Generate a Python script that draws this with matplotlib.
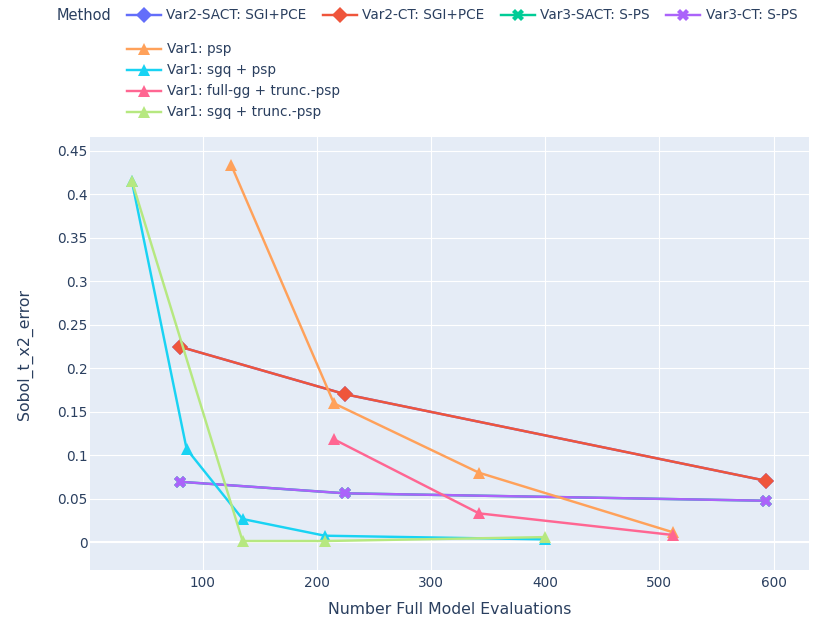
import numpy as np
import matplotlib.pyplot as plt
from matplotlib.lines import Line2D

# ---------------------------------------------- data
methods = ['Var2-SACT: SGI+PCE', 'Var2-CT: SGI+PCE', 'Var3-SACT: S-PS', 'Var3-CT: S-PS',
           'Var1: psp', 'Var1: sgq + psp', 'Var1: full-gg + trunc.-psp', 'Var1: sgq + trunc.-psp']

var2_evals = [80, 225, 593]
var2_err = [0.2248, 0.1701, 0.0708]
var3_evals = [80, 225, 593]
var3_err = [0.0696, 0.0563, 0.0478]

psp_evals = [125, 215, 342, 512]
psp_err = [0.4337, 0.1597, 0.0800, 0.0115]
sgq_psp_evals = [38, 86, 135, 207, 400]
sgq_psp_err = [0.4155, 0.1072, 0.0268, 0.0076, 0.0034]
fullgg_trunc_evals = [215, 342, 512]
fullgg_trunc_err = [0.1184, 0.0333, 0.0084]
sgq_trunc_evals = [38, 135, 207, 400]
sgq_trunc_err = [0.4155, 0.0015, 0.0015, 0.0060]

xs = [var2_evals, var2_evals, var3_evals, var3_evals,
      psp_evals, sgq_psp_evals, fullgg_trunc_evals, sgq_trunc_evals]
ys = [var2_err, var2_err, var3_err, var3_err,
      psp_err, sgq_psp_err, fullgg_trunc_err, sgq_trunc_err]

# ---------------------------------------------- style
colors = ['#636EFA', '#EF553B', '#00CC96', '#AB63FA',
          '#FFA15A', '#19D3F3', '#FF6692', '#B6E880']
markers = ['D', 'D', 'X', 'X', '^', '^', '^', '^']
msizes = [7.8, 7.8, 9.0, 9.0, 9.0, 9.0, 9.0, 9.0]
font_col = '#2a3f5f'

W, H = 816, 618
fig = plt.figure(figsize=(W / 100, H / 100), dpi=100)

def fx(px):
    return px / W

def fy(py):
    return 1 - py / H

left, right, top, bottom = 90, 809, 137.3, 570
ax = fig.add_axes([fx(left), fy(bottom), fx(right) - fx(left), fy(top) - fy(bottom)])
ax.set_facecolor('#E5ECF6')
for s in ax.spines.values():
    s.set_visible(False)

for i in range(len(methods)):
    ax.plot(xs[i], ys[i], color=colors[i], lw=1.75, marker=markers[i],
            ms=msizes[i], mew=0, zorder=3 + i)

ax.set_xlim(1.4, 631)
ax.set_ylim(-0.0318, 0.4654)
ax.set_xticks(np.arange(100, 700, 100))
ax.set_yticks(np.arange(0, 0.451, 0.05))
ax.set_yticklabels(['0', '0.05', '0.1', '0.15', '0.2', '0.25', '0.3', '0.35', '0.4', '0.45'])
ax.grid(True, color='white', lw=0.8, zorder=0)
ax.axhline(0, color='white', lw=1.5, zorder=1)
ax.set_axisbelow(True)
ax.tick_params(length=0, labelsize=9.8, labelcolor=font_col)
ax.tick_params(axis='x', pad=4)
ax.tick_params(axis='y', pad=1.5)

fig.text(fx(449.5), fy(610), 'Number Full Model Evaluations', ha='center', va='center',
         fontsize=11.3, color=font_col)
fig.text(fx(25), fy(354), 'Sobol_t_x2_error', ha='center', va='center', rotation=90,
         fontsize=11.3, color=font_col)

# ---------------------------------------------- legend
fig.text(fx(56.7), fy(15), 'Method', ha='left', va='center', fontsize=10.5, color=font_col)

def legend_item(i, x0, y, tx):
    fig.add_artist(Line2D([fx(x0), fx(x0 + 34)], [fy(y), fy(y)], transform=fig.transFigure,
                          color=colors[i], lw=1.75))
    fig.add_artist(Line2D([fx(x0 + 17)], [fy(y)], transform=fig.transFigure,
                          color=colors[i], marker=markers[i], ms=msizes[i], mew=0))
    fig.text(fx(tx), fy(y), methods[i], ha='left', va='center', fontsize=9.8, color=font_col)

row1 = [(127, 166), (323, 362), (501, 540), (666, 706)]
for i, (x0, tx) in enumerate(row1):
    legend_item(i, x0, 15, tx)
for k, y in enumerate([49, 70, 90.7, 112.3]):
    legend_item(4 + k, 127, y, 167)

fig.savefig('out.png', dpi=100, facecolor='white')
